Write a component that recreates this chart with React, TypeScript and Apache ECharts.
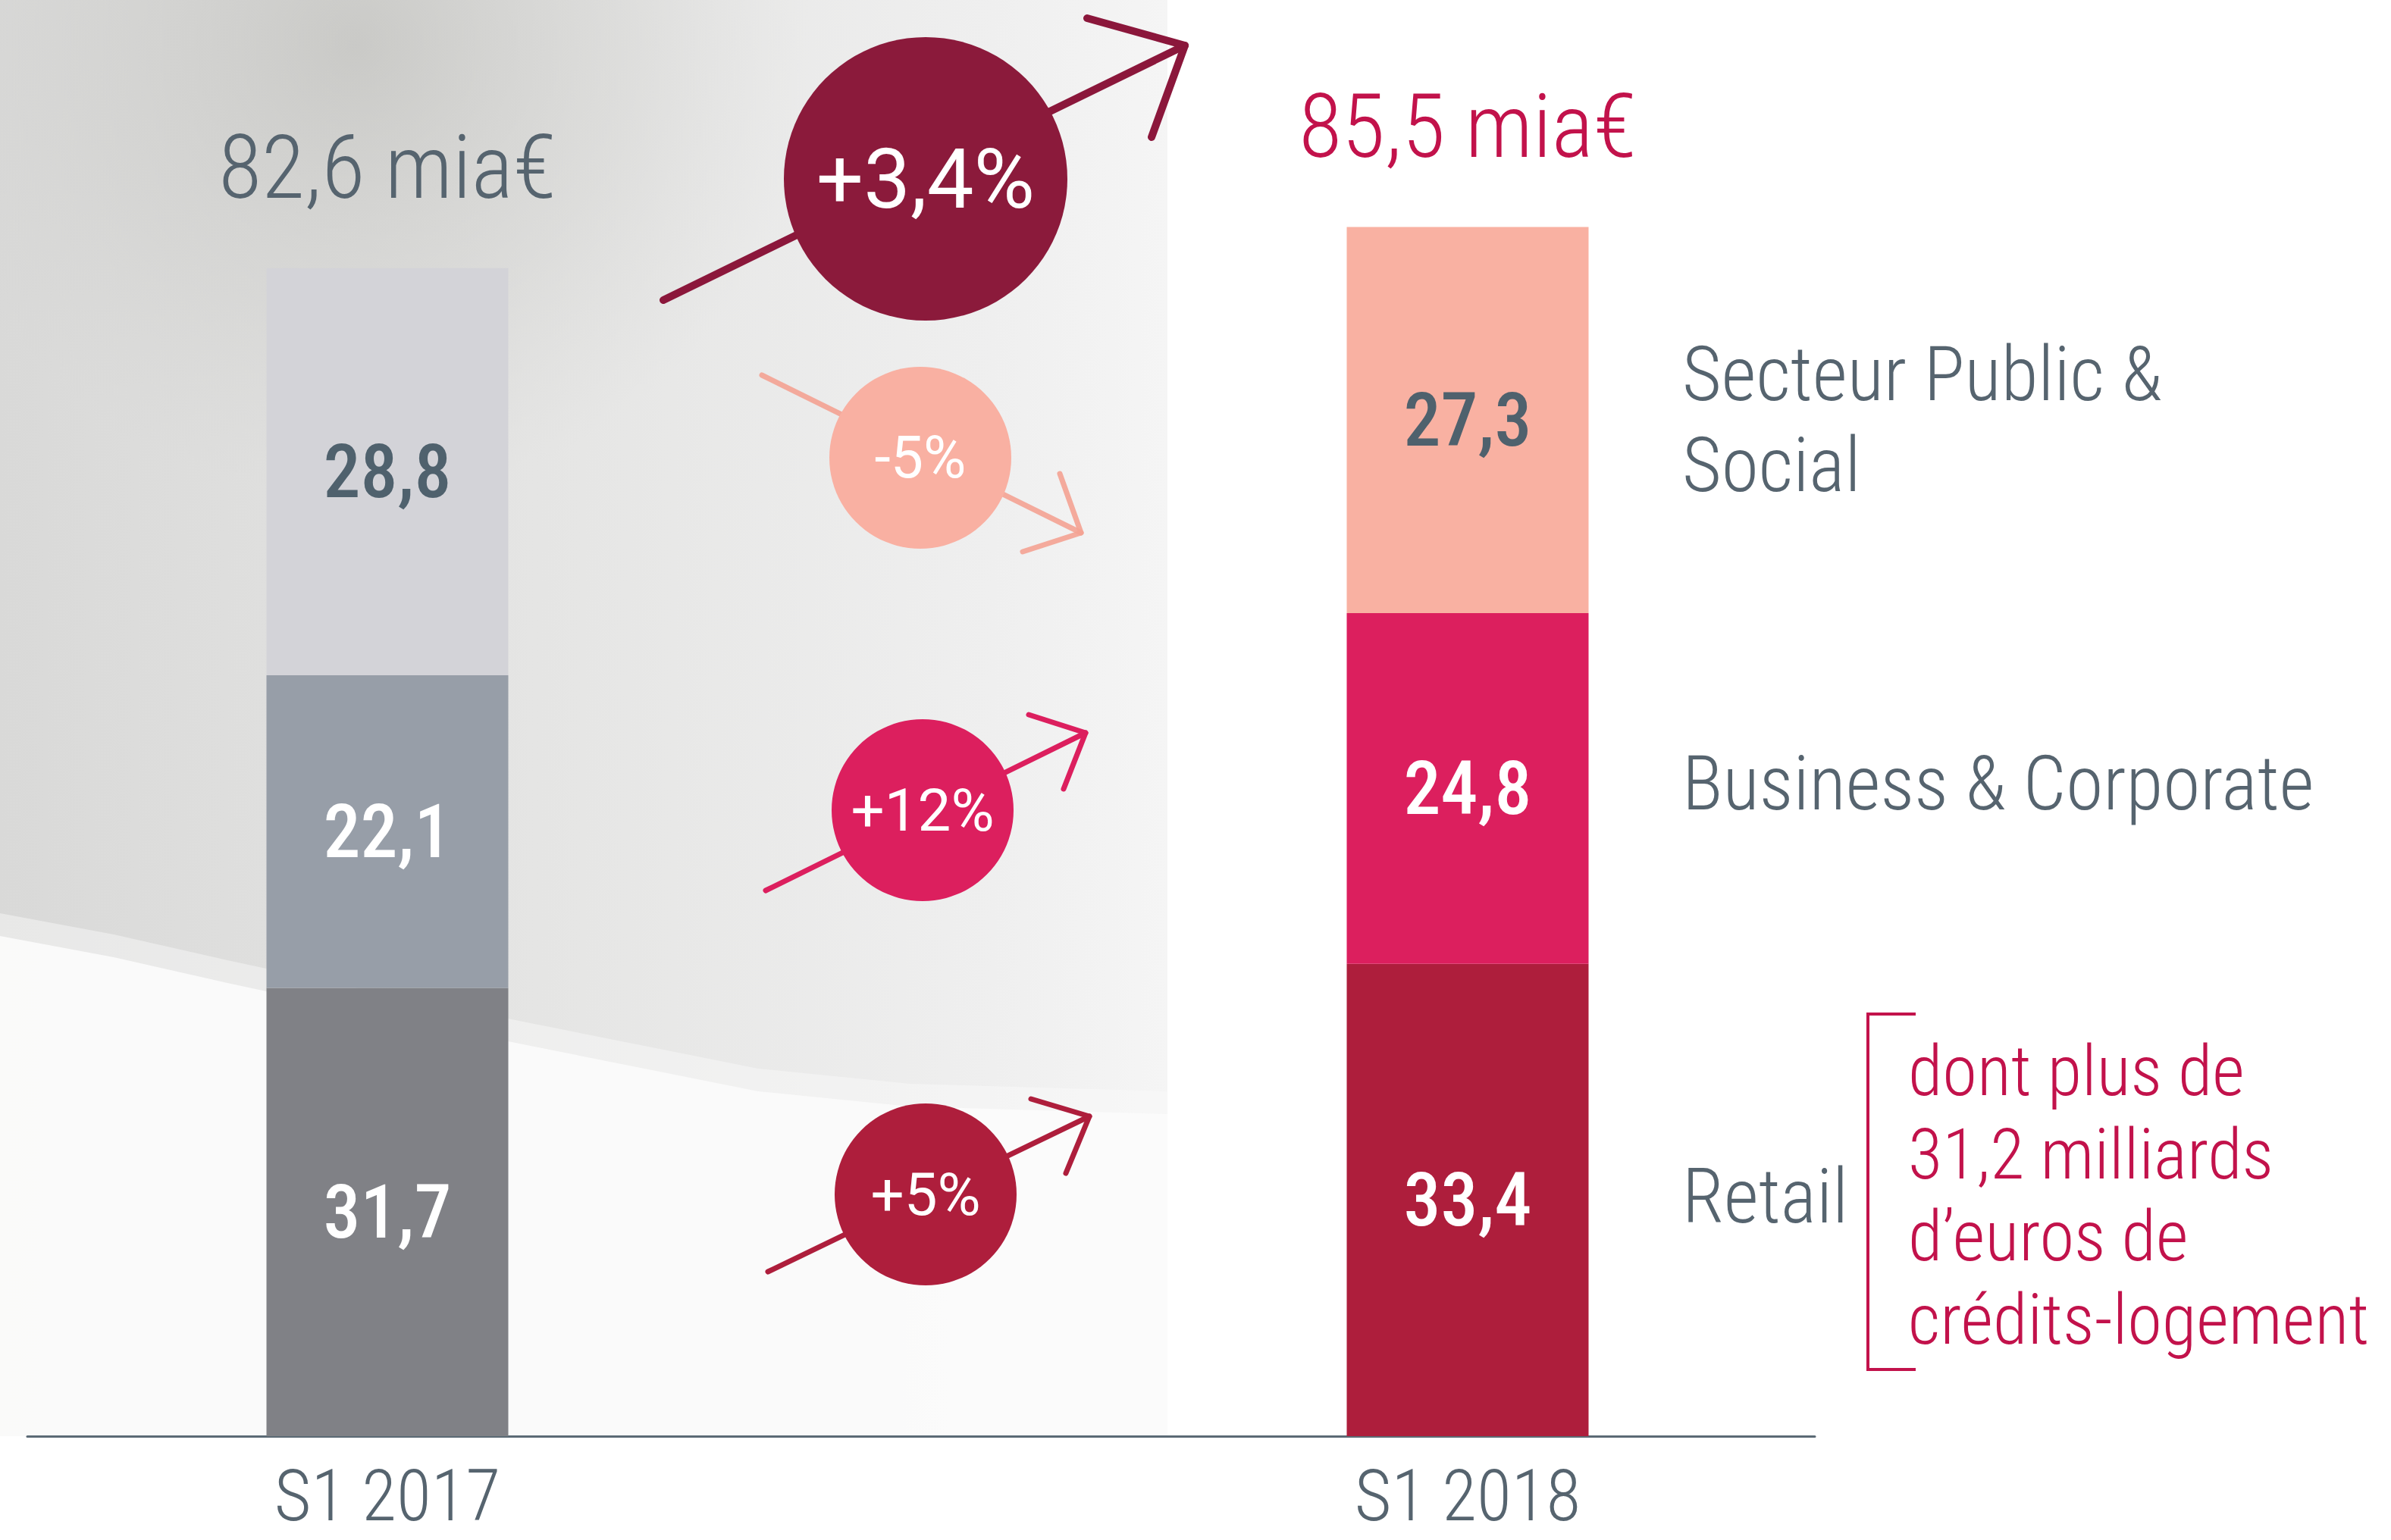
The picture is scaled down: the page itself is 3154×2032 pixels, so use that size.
import React, { useEffect, useRef } from 'react';
import * as echarts from 'echarts';

// ---- Data ----
const categories = ['S1 2017', 'S1 2018'];
const retail = [31.7, 33.4];
const business = [22.1, 24.8];
const publicSocial = [28.8, 27.3];
const growthLabels = ['+3,4%', '-5%', '+12%', '+5%'];
const segmentNames = ['Secteur Public &', 'Social', 'Business & Corporate', 'Retail'];
const noteLines = ['dont plus de', '31,2 milliards', 'd\u2019euros de', 'cr\u00e9dits-logement'];

// ---- Styles ----
const FONT = 'Roboto';
const SLATE = '#56646f';
const LABEL_DARK = '#4f616d';
const CRIMSON = '#c2124b';
const retailColors = ['#808186', '#ae1e3c'];
const businessColors = ['#979ea8', '#dc1f5e'];
const publicColors = ['#d3d3d8', '#f9b1a2'];
const totalColors = [SLATE, CRIMSON];

const fmt = (v: number) => v.toFixed(1).replace('.', ',');

export default function App() {
  const ref = useRef<HTMLDivElement>(null);

  useEffect(() => {
    document.body.style.margin = '0';
    if (!ref.current) return;
    const chart = echarts.init(ref.current, null, { renderer: 'svg' });

    const totals = categories.map((_, i) => +(retail[i] + business[i] + publicSocial[i]).toFixed(1));

    const mkData = (vals: number[], colors: string[]) =>
      vals.map((v, i) => ({ value: v, itemStyle: { color: colors[i] } }));

    const segLabel = (color: string) => ({
      show: true,
      position: 'inside',
      color,
      fontFamily: FONT,
      fontWeight: 500,
      fontSize: 98,
      formatter: (p: any) => fmt(p.value),
    });

    const txt = (x: number, y: number, text: string, size: number, fill: string, align = 'left', weight: any = 300) => ({
      type: 'text',
      x,
      y,
      z: 20,
      silent: true,
      style: { text, fill, fontSize: size, fontFamily: FONT, fontWeight: weight, align, verticalAlign: 'middle' },
    });

    // circle labels: normal width (font shorthand resets the condensed stretch)
    const ctxt = (x: number, y: number, text: string, size: number) => ({
      type: 'text',
      x,
      y,
      z: 20,
      silent: true,
      style: { text, fill: '#ffffff', font: `400 ${size}px Roboto`, align: 'center', verticalAlign: 'middle' },
    });

    const arrow = (shaft: number[][], head: number[][], color: string, w: number, opacity = 1) => [
      { type: 'polyline', z: 10, silent: true, shape: { points: shaft }, style: { stroke: color, lineWidth: w, lineCap: 'round', opacity, fill: null } },
      { type: 'polyline', z: 10, silent: true, shape: { points: head }, style: { stroke: color, lineWidth: w, lineCap: 'round', lineJoin: 'round', opacity, fill: null } },
    ];

    const circ = (cx: number, cy: number, r: number, color: string) => ({
      type: 'circle', z: 15, silent: true, shape: { cx, cy, r }, style: { fill: color },
    });

    const graphic: any[] = [
      // soft photographic background on the left
      {
        type: 'rect', z: -20, silent: true,
        shape: { x: 0, y: 0, width: 1540, height: 1895 },
        style: {
          fill: new echarts.graphic.LinearGradient(0, 0, 1, 0, [
            { offset: 0, color: '#d9d9d8' },
            { offset: 0.5, color: '#e6e6e5' },
            { offset: 0.85, color: '#efefef' },
            { offset: 1, color: '#f5f5f5' },
          ]),
        },
      },
      {
        type: 'circle', z: -19, silent: true,
        shape: { cx: 470, cy: 60, r: 600 },
        style: {
          fill: new echarts.graphic.RadialGradient(0.5, 0.5, 0.5, [
            { offset: 0, color: 'rgba(186,186,182,0.6)' },
            { offset: 0.6, color: 'rgba(200,200,197,0.3)' },
            { offset: 1, color: 'rgba(210,210,208,0)' },
          ]),
        },
      },
      {
        type: 'polygon', z: -18, silent: true,
        shape: {
          points: [[0, 1205], [150, 1233], [300, 1267], [500, 1310], [700, 1350], [850, 1380], [1000, 1410], [1200, 1430], [1540, 1440], [1540, 1895], [0, 1895]],
        },
        style: { fill: 'rgba(250,250,250,0.45)' },
      },
      {
        type: 'polygon', z: -17, silent: true,
        shape: {
          points: [[0, 1235], [150, 1263], [300, 1297], [500, 1340], [700, 1380], [850, 1410], [1000, 1440], [1200, 1460], [1540, 1470], [1540, 1895], [0, 1895]],
        },
        style: { fill: 'rgba(251,251,251,0.92)' },
      },
      // arrows
      ...arrow([[875, 396], [1563, 60]], [[1434, 24], [1563, 60], [1519, 181]], '#8b173b', 10),
      ...arrow([[1005, 495], [1426, 703]], [[1398, 625], [1426, 703], [1349, 728]], '#f4a292', 7, 0.9),
      ...arrow([[1010, 1175], [1432, 967]], [[1357, 943], [1432, 967], [1403, 1041]], '#dc1f5e', 7),
      ...arrow([[1013, 1678], [1437, 1473]], [[1360, 1450], [1437, 1473], [1406, 1548]], '#ae1e3c', 7),
      // circles
      circ(1221, 236, 187, '#8b1a3b'),
      circ(1214, 604, 120, '#f9b0a2'),
      circ(1217, 1069, 120, '#dc1f5e'),
      circ(1221, 1576, 120, '#ae1e3c'),
      ctxt(1221, 236, growthLabels[0], 110),
      ctxt(1214, 604, growthLabels[1], 77),
      ctxt(1217, 1069, growthLabels[2], 78),
      ctxt(1221, 1576, growthLabels[3], 78),
      // segment names
      txt(2219, 493, segmentNames[0], 100, SLATE),
      txt(2219, 613, segmentNames[1], 100, SLATE),
      txt(2219, 1033, segmentNames[2], 100, SLATE),
      txt(2219, 1578, segmentNames[3], 100, SLATE),
      // bracket
      {
        type: 'polyline', z: 10, silent: true,
        shape: { points: [[2527, 1338], [2464, 1338], [2464, 1807], [2527, 1807]] },
        style: { stroke: CRIMSON, lineWidth: 4, fill: null },
      },
      ...noteLines.map((t, i) => txt(2517, [1413, 1523, 1631, 1741][i], t, 93, CRIMSON)),
    ];

    chart.setOption({
      animation: false,
      backgroundColor: '#ffffff',
      grid: [
        { left: 511, right: 1218, top: 29, bottom: 137, outerBoundsMode: 'none', containLabel: false },
        { left: 36, right: 760, top: 29, bottom: 137, outerBoundsMode: 'none', containLabel: false },
      ],
      xAxis: [
        {
          type: 'category',
          gridIndex: 0,
          data: categories,
          boundaryGap: false,
          axisLine: { show: false },
          axisTick: { show: false },
          axisLabel: { color: SLATE, fontFamily: FONT, fontWeight: 300, fontSize: 94, lineHeight: 76, margin: 41 },
        },
        {
          type: 'category',
          gridIndex: 1,
          data: [''],
          axisLine: { show: true, lineStyle: { color: '#5b6a75', width: 3 } },
          axisTick: { show: false },
          axisLabel: { show: false },
        },
      ],
      yAxis: [
        { type: 'value', gridIndex: 0, min: 0, max: 100, show: false },
        { type: 'value', gridIndex: 1, min: 0, max: 100, show: false },
      ],
      series: [
        {
          name: 'Retail', type: 'bar', stack: 'total', barWidth: 319, clip: false,
          data: mkData(retail, retailColors), label: segLabel('#ffffff'),
        },
        {
          name: 'Business & Corporate', type: 'bar', stack: 'total', barWidth: 319, clip: false,
          data: mkData(business, businessColors), label: segLabel('#ffffff'),
        },
        {
          name: 'Secteur Public & Social', type: 'bar', stack: 'total', barWidth: 319, clip: false,
          data: mkData(publicSocial, publicColors), label: segLabel(LABEL_DARK),
        },
        {
          name: 'Total', type: 'bar', barWidth: 319, barGap: '-100%', silent: true, clip: false,
          itemStyle: { color: 'rgba(0,0,0,0)' },
          data: totals.map((v, i) => ({
            value: v,
            label: { color: totalColors[i] },
          })),
          label: {
            show: true, position: 'top', distance: 74,
            fontFamily: FONT, fontWeight: 300, fontSize: 117, lineHeight: 117,
            formatter: (p: any) => `${fmt(p.value)} mia\u20ac`,
          },
        },
      ],
      graphic,
    });

    return () => chart.dispose();
  }, []);

  return (
    <>
      <style>{'svg text { font-stretch: condensed; }'}</style>
      <div ref={ref} style={{ position: 'absolute', left: 0, top: 0, width: 3154, height: 2032 }} />
    </>
  );
}
